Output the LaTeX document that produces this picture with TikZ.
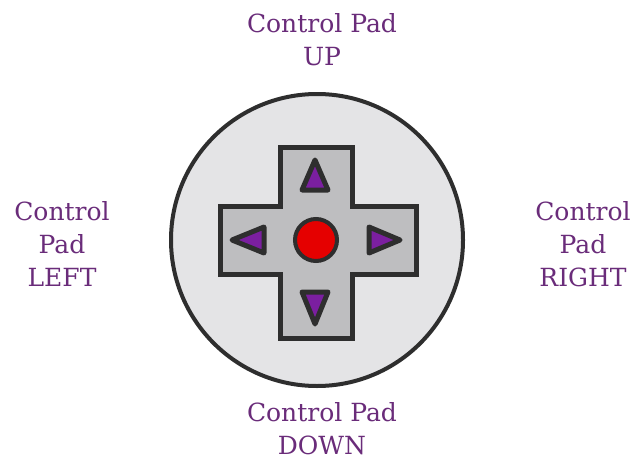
\documentclass[tikz,border=0pt]{standalone}
\usepackage{fontspec}
\setmainfont{DejaVu Serif}
\begin{document}
\begin{tikzpicture}[x=1pt,y=-1pt,
  lbl/.style={text=txtpurple,font=\fontsize{25}{33}\selectfont,align=center,inner sep=0pt},
  arrowtri/.style={fill=tripurple,draw=darkline,line width=5pt,line join=round},
  ]
\definecolor{txtpurple}{HTML}{6A2C7A}
\definecolor{tripurple}{HTML}{7B1FA0}
\definecolor{darkline}{HTML}{2E2E2E}
\definecolor{padgrey}{HTML}{E4E4E6}
\definecolor{crossgrey}{HTML}{BEBEC0}
\useasboundingbox (0,0) rectangle (634,460);
\fill[white] (0,0) rectangle (634,460);
% outer disc
\node[circle,minimum size=292pt,fill=padgrey,draw=darkline,line width=4pt,inner sep=0pt] (disc) at (317,240) {};
% cross
\draw[fill=crossgrey,draw=darkline,line width=5pt,line join=miter]
  (280,147) -- (352,147) -- (352,206) -- (416,206) -- (416,274) -- (352,274)
  -- (352,338) -- (280,338) -- (280,274) -- (220,274) -- (220,206) -- (280,206) -- cycle;
% triangles
\draw[arrowtri] (315,160) -- (328,190) -- (302,190) -- cycle;
\draw[arrowtri] (315,324) -- (328,292) -- (302,292) -- cycle;
\draw[arrowtri] (232,240) -- (264,227) -- (264,253) -- cycle;
\draw[arrowtri] (400,240) -- (369,227) -- (369,253) -- cycle;
% button
\node[circle,minimum size=42pt,fill=red!90!black,draw=darkline,line width=4pt,inner sep=0pt] (btn) at (316,240) {};
% labels
\node[lbl] (up) at (322,40) {Control Pad\\UP};
\node[lbl] (down) at (322,429) {Control Pad\\DOWN};
\node[lbl] (left) at (62,244) {Control\\Pad\\LEFT};
\node[lbl] (right) at (583,244) {Control\\Pad\\RIGHT};
\end{tikzpicture}
\end{document}
